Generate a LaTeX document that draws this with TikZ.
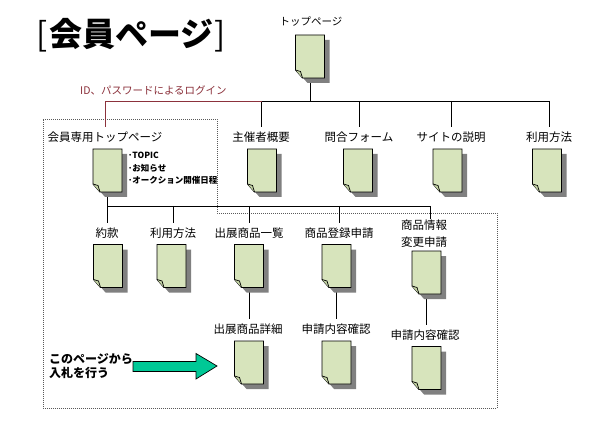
\documentclass[tikz,border=0pt]{standalone}
\usepackage{fontspec}
\setmainfont{Noto Sans CJK JP}
\definecolor{docfill}{RGB}{215,228,188}
\definecolor{flapfill}{RGB}{196,212,165}
\definecolor{docshadow}{RGB}{128,128,128}
\definecolor{loginred}{RGB}{140,50,60}
\definecolor{arrowgreen}{RGB}{0,200,150}
\definecolor{boxdots}{RGB}{90,90,90}
\newcommand\mydoc[1]{%
  \fill[docshadow] ([shift={(5,5)}]#1.north west) -- ([shift={(5,5)}]#1.north east) -- ([shift={(5,5)}]#1.south east) -- ([shift={(12,5)}]#1.south west) -- ([shift={(5,-3)}]#1.south west) -- cycle;
  \filldraw[fill=docfill, draw=black, line width=0.9pt, line join=miter] (#1.north west) -- (#1.north east) -- (#1.south east) -- ([shift={(7,0)}]#1.south west) -- ([shift={(0,-8)}]#1.south west) -- cycle;
  \filldraw[fill=flapfill, draw=black, line width=0.7pt] ([shift={(0,-8)}]#1.south west) -- ([shift={(5,-6.5)}]#1.south west) -- ([shift={(7,0)}]#1.south west);
}
\begin{document}
\begin{tikzpicture}[x=1pt,y=-1pt,
  lbl/.style={inner xsep=0pt, inner ysep=5pt, outer sep=0pt, font=\fontsize{11.5}{13}\selectfont},
  docnode/.style={minimum width=29pt, minimum height=43pt, inner sep=0pt, outer sep=0pt},
  conn/.style={draw=black, line width=0.9pt},
  loginline/.style={draw=loginred, line width=0.9pt}]
\useasboundingbox (0,0) rectangle (610,422);
\fill[white] (0,0) rectangle (610,422);

% dotted region
\draw[boxdots, line width=0.8pt, dash pattern=on 0.9pt off 1.1pt]
  (43,119) -- (217,119) -- (217,213) -- (497,213) -- (497,408) -- (43,408) -- cycle;

% title
\node[anchor=west, inner sep=0pt, font=\fontsize{33}{36}\selectfont\bfseries] (title) at (36,35) {{\mdseries[}\hspace{2pt}会員ページ\hspace{0.5pt}{\mdseries]}};

% top page
\node[lbl, font=\fontsize{10.5}{12}\selectfont] (ltop) at (311,22) {トップページ};
\node[docnode] (dtop) at (310,56.5) {};

% login text
\node[anchor=west, inner sep=0pt, text=loginred, font=\fontsize{10.5}{12}\selectfont] (login) at (80,90) {ID、パスワードによるログイン};

% row 2
\node[lbl] (lmem) at (105,137) {会員専用トップページ};
\node[lbl] (l2a) at (261,137) {主催者概要};
\node[lbl] (l2b) at (359,137) {問合フォーム};
\node[lbl] (l2c) at (451,137) {サイトの説明};
\node[lbl] (l2d) at (549,137) {利用方法};
\node[docnode] (dmem) at (107.5,170.5) {};
\node[docnode] (d2a) at (262,170.5) {};
\node[docnode] (d2b) at (358,170.5) {};
\node[docnode] (d2c) at (447.5,170.5) {};
\node[docnode] (d2d) at (547,170.5) {};
\node[anchor=west, align=left, inner sep=0pt, font=\fontsize{8.5}{12.5}\selectfont\bfseries] (bullets) at (128,168.5) {･TOPIC\\･お知らせ\\･オークション開催日程};

% row 3
\node[lbl] (l3a) at (107,233) {約款};
\node[lbl] (l3b) at (173,233) {利用方法};
\node[lbl] (l3c) at (249,233) {出展商品一覧};
\node[lbl] (l3d) at (339,233) {商品登録申請};
\node[lbl, align=center, font=\fontsize{11.5}{16.5}\selectfont] (l3e) at (424,233.5) {商品情報\\変更申請};
\node[docnode] (d3a) at (108,266) {};
\node[docnode] (d3b) at (171.5,266) {};
\node[docnode] (d3c) at (249,266) {};
\node[docnode] (d3d) at (336.5,266) {};
\node[docnode] (d3e) at (426.5,272.5) {};

% row 4
\node[lbl] (l4c) at (248,329) {出展商品詳細};
\node[lbl] (l4d) at (336,329) {申請内容確認};
\node[lbl] (l4e) at (425,335) {申請内容確認};
\node[docnode] (d4c) at (249,362.5) {};
\node[docnode] (d4d) at (336.5,362.5) {};
\node[docnode] (d4e) at (426.5,368) {};

% bid text and arrow
\node[anchor=west, align=left, inner sep=0pt, font=\fontsize{12}{14}\selectfont\bfseries] (bidtext) at (49,366) {このページから\\入札を行う};
\draw[fill=arrowgreen, draw=black, line width=0.7pt, line join=miter]
  (133,361.5) -- (196,361.5) -- (196,353.5) -- (217,366) -- (196,379) -- (196,371.5) -- (133,371.5) -- cycle;

% connectors
\coordinate (bus1) at (262,101);
\coordinate (bus2) at (107.5,206);
\coordinate (c3e) at (430,219);
\draw[conn] (dtop.south) -- (dtop.south |- bus1);
\draw[conn] (bus1) -- (bus1 -| l2d.north);
\foreach \n in {l2a,l2b,l2c,l2d} \draw[conn] (\n.north |- bus1) -- (\n.north);
\draw[loginline] (bus1) -- (bus1 -| lmem.north) -- (lmem.north);
\draw[conn] (dmem.south) -- (bus2) -- (bus2 -| c3e);
\foreach \n in {l3a,l3b,l3c,l3d} \draw[conn] (\n.north |- bus2) -- (\n.north);
\draw[conn] (c3e |- bus2) -- (c3e);
\draw[conn] (d3c.south) -- (d3c.south |- l4c.north);
\draw[conn] (d3d.south) -- (d3d.south |- l4d.north);
\draw[conn] (d3e.south) -- (d3e.south |- l4e.north);

% documents
\foreach \n in {dtop,dmem,d2a,d2b,d2c,d2d,d3a,d3b,d3c,d3d,d3e,d4c,d4d,d4e} {\mydoc{\n}}
\end{tikzpicture}
\end{document}
